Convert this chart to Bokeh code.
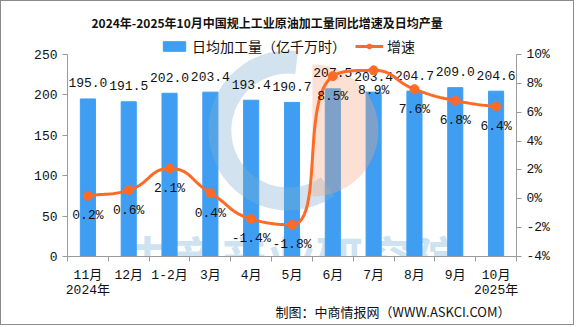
import numpy as np
from bokeh.plotting import figure
from bokeh.models import (Range1d, LinearAxis, FixedTicker, PrintfTickFormatter,
                          Legend, LegendItem, Label, Title, ColumnDataSource)
from bokeh.core.properties import value
from bokeh.embed import file_html
from bokeh.resources import INLINE

months = ["11月", "12月", "1-2月", "3月", "4月", "5月", "6月", "7月", "8月", "9月", "10月"]
years = ["2024年", "", "", "", "", "", "", "", "", "", "2025年"]
output = [195.0, 191.5, 202.0, 203.4, 193.4, 190.7, 207.5, 203.4, 204.7, 209.0, 204.6]
growth = [0.2, 0.6, 2.1, 0.4, -1.4, -1.8, 8.5, 8.9, 7.6, 6.8, 6.4]
left_ticks = [0, 50, 100, 150, 200, 250]
right_ticks = [-4, -2, 0, 2, 4, 6, 8, 10]

TITLE = "2024年-2025年10月中国规上工业原油加工量同比增速及日均产量"
BAR_NAME = "日均加工量（亿千万时）"
LINE_NAME = "增速"
SOURCE = "制图：中商情报网（WWW.ASKCI.COM）"
WATERMARK = "中商产业研究院"

FONT = "'Liberation Mono', 'Noto Sans CJK SC'"
CJK = "'Noto Sans CJK SC'"
BLUE = "#3F9EF2"
ORANGE = "#FF6A24"
AXIS = "#9A9A9A"

n = len(months)
xc = [i + 0.5 for i in range(n)]
W, H = 574, 325
FW = 449          # frame width
AH = 202          # height of the axis span (0..250 / -4..10%)
EXTRA = 24        # frame extends above the axis span to host the legend
FH = AH + EXTRA
L0, L1 = left_ticks[0], left_ticks[-1]
R0, R1 = right_ticks[0], right_ticks[-1]

p = figure(width=W, height=H, x_range=Range1d(0, n),
           y_range=Range1d(L0, L1 + (L1 - L0) * EXTRA / AH),
           output_backend="svg", toolbar_location=None,
           min_border_left=66, min_border_right=W - 66 - FW, min_border_top=29,
           min_border_bottom=H - 29 - FH)
p.styles = {"border": "1px solid #8C8C8C"}
p.outline_line_color = None
p.background_fill_color = "white"
p.border_fill_color = "white"
p.xgrid.visible = False
p.ygrid.visible = False
p.extra_y_ranges = {"pct": Range1d(R0, R1 + (R1 - R0) * EXTRA / AH)}

# watermark text
p.add_layout(Label(x=224, y=1, x_units="screen", y_units="screen", text=WATERMARK,
                   text_font=CJK, text_font_size="48px", text_color="#8FBFE0", text_alpha=0.45,
                   text_align="center", text_baseline="middle", level="underlay",
                   text_font_style="bold"))

# bars
src = ColumnDataSource(dict(x=xc, top=output, lab=[f"{v:.1f}" for v in output]))
bars = p.vbar(x="x", top="top", width=0.37, source=src, color=BLUE)

# faint logo watermark (decoration, drawn over the bars)
SX, SY = FW / n, AH / (R1 - R0)
LY = (L1 - L0) / AH          # left-axis units per pixel
p.annular_wedge(x=5.41, y=126 * LY, inner_radius=57, outer_radius=80,
                inner_radius_units="screen", outer_radius_units="screen",
                start_angle=np.radians(-55), end_angle=np.radians(83),
                direction="clock", fill_color="#7FB0D0", fill_alpha=0.35, line_color=None)
p.wedge(x=6.0, y=126 * LY, radius=66, radius_units="screen",
        start_angle=np.radians(-90), end_angle=np.radians(90),
        fill_color="#F4A582", fill_alpha=0.35, line_color=None)

p.text(x="x", y="top", text="lab", source=src, text_align="center", text_baseline="middle",
       y_offset=-16, text_font=value(FONT), text_font_size="13px", text_color="#111")

# smoothed rendering of the growth line (ECharts-style constrained bezier)
def smooth_path(xs, ys, smooth=0.5, steps=24):
    P = [(x * SX, y * SY) for x, y in zip(xs, ys)]
    m = len(P)
    cin = [None] * m
    cout = [None] * m
    for i in range(m):
        x, y = P[i]
        px, py = P[i - 1] if i > 0 else P[i]
        nx, ny = P[i + 1] if i < m - 1 else P[i]
        lp = np.hypot(x - px, y - py)
        ln = np.hypot(nx - x, ny - y)
        if i == m - 1:
            cin[i] = (x, y); cout[i] = (x, y); continue
        vx, vy = nx - px, ny - py
        r = ln / (ln + lp)
        ncx, ncy = x + vx * smooth * r, y + vy * smooth * r
        ncx = max(min(ncx, max(nx, x)), min(nx, x))
        ncy = max(min(ncy, max(ny, y)), min(ny, y))
        vx, vy = ncx - x, ncy - y
        c1x, c1y = x - vx * lp / ln, y - vy * lp / ln
        if i > 0:
            c1x = max(min(c1x, max(px, x)), min(px, x))
            c1y = max(min(c1y, max(py, y)), min(py, y))
            vx, vy = x - c1x, y - c1y
            ncx, ncy = x + vx * ln / lp, y + vy * ln / lp
        cin[i] = (c1x, c1y)
        cout[i] = (ncx, ncy)
    ox, oy = [], []
    t = np.linspace(0, 1, steps, endpoint=False)
    for i in range(m - 1):
        p0, p1, p2, p3 = P[i], cout[i], cin[i + 1], P[i + 1]
        for k, out in ((0, ox), (1, oy)):
            b = ((1 - t) ** 3 * p0[k] + 3 * (1 - t) ** 2 * t * p1[k]
                 + 3 * (1 - t) * t ** 2 * p2[k] + t ** 3 * p3[k])
            out.extend(b)
    ox.append(P[-1][0]); oy.append(P[-1][1])
    return [v / SX for v in ox], [v / SY for v in oy]

cx, cy = smooth_path(xc, growth)
line = p.line(cx, cy, y_range_name="pct", line_color=ORANGE, line_width=3)
gsrc = ColumnDataSource(dict(x=xc, y=growth, lab=[f"{v:.1f}%" for v in growth]))
dots = p.scatter(x="x", y="y", source=gsrc, y_range_name="pct", size=9, color=ORANGE)
p.text(x="x", y="y", text="lab", source=gsrc, y_range_name="pct", text_align="center",
       text_baseline="middle", y_offset=20, text_font=value(FONT), text_font_size="13px",
       text_color="#111")

# axes
xa = p.xaxis[0]
xa.ticker = FixedTicker(ticks=xc, minor_ticks=list(range(n + 1)))
xa.major_label_overrides = {x: (m + ("\n" + y if y else "")) for x, m, y in zip(xc, months, years)}
xa.major_tick_line_color = None
xa.minor_tick_in = 0
xa.minor_tick_out = 5
xa.minor_tick_line_color = AXIS
xa.axis_line_color = AXIS
xa.major_label_text_font = FONT
xa.major_label_text_font_size = "13px"
xa.major_label_text_line_height = 1.0
xa.major_label_text_color = "#111"
xa.major_label_standoff = 5

ya = p.yaxis[0]
ya.ticker = FixedTicker(ticks=left_ticks)
ya.bounds = (L0, L1)
ya.axis_line_color = AXIS
ya.major_tick_line_color = AXIS
ya.major_tick_in = 0
ya.major_tick_out = 5
ya.minor_tick_line_color = None
ya.major_label_text_font = FONT
ya.major_label_text_font_size = "13px"
ya.major_label_text_color = "#111"

ra = LinearAxis(y_range_name="pct", ticker=FixedTicker(ticks=right_ticks),
                formatter=PrintfTickFormatter(format="%d%%"), bounds=(R0, R1))
ra.axis_line_color = AXIS
ra.major_tick_line_color = AXIS
ra.major_tick_in = 0
ra.major_tick_out = 5
ra.minor_tick_line_color = None
ra.major_label_text_font = FONT
ra.major_label_text_font_size = "13px"
ra.major_label_text_color = "#111"
p.add_layout(ra, "right")

# legend inside the (extended) frame, above the bars
legend = Legend(items=[LegendItem(label=BAR_NAME, renderers=[bars]),
                       LegendItem(label=LINE_NAME, renderers=[line, dots])],
                orientation="horizontal", location=(93, 200),
                label_text_font=CJK, label_text_font_size="14px", label_text_color="#111",
                glyph_width=28, glyph_height=12, label_standoff=4, spacing=9,
                padding=0, margin=0, border_line_color=None, background_fill_alpha=0)
p.add_layout(legend, "center")

# title
p.add_layout(Title(text=TITLE, align="left", offset=24, text_font=CJK, text_font_size="12px",
                   text_font_style="bold", text_color="#111", standoff=0), "above")

# source note below the x axis
p.add_layout(Title(text=SOURCE, align="right", offset=6, text_font=CJK, text_font_size="13px",
                   text_font_style="normal", text_color="#111", standoff=0,
                   vertical_align="middle"), "below")

open("out.html", "w").write(file_html(p, INLINE))
